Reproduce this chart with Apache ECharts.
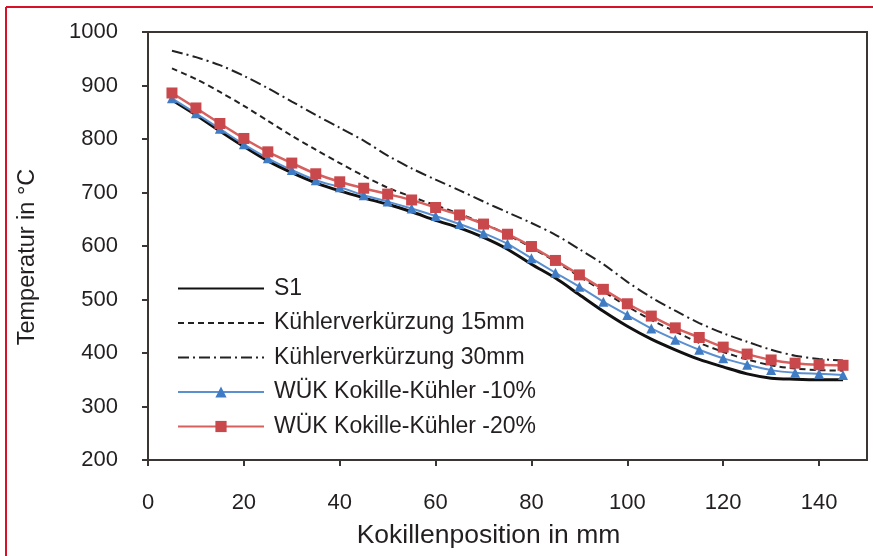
<!DOCTYPE html>
<html>
<head>
<meta charset="utf-8">
<script src="https://cdn.jsdelivr.net/npm/echarts@6/dist/echarts.min.js"></script>
<style>
html,body{margin:0;padding:0;background:#fff;}
#chart{width:873px;height:556px;}
</style>
</head>
<body>
<div id="chart"></div>
<script>
const positions = [5,10,15,20,25,30,35,40,45,50,55,60,65,70,75,80,85,90,95,100,105,110,115,120,125,130,135,140,145];
const s1 =        [873,845,815,786,759,737,718,703,690,678,664,648,634,616,594,566,540,509,478,450,426,406,388,374,361,353,351,350,350];
const kuehler15 = [932,912,888,862,834,806,780,755,731,709,692,676,660,642,621,597,571,543,515,487,462,440,419,402,388,377,371,368,367];
const kuehler30 = [965,953,938,918,895,870,845,821,797,769,745,724,704,683,663,643,621,594,566,533,504,479,456,437,421,406,395,389,386];
const wuek10 =    [876,848,819,790,764,742,723,710,695,683,670,656,641,624,604,577,550,524,496,471,446,425,406,390,378,368,363,361,359];
const wuek20 =    [886,858,829,801,776,755,735,720,708,697,686,672,658,641,622,599,573,546,519,492,469,447,429,411,398,387,381,378,377];
const seriesNames = ['S1','Kühlerverkürzung 15mm','Kühlerverkürzung 30mm','WÜK Kokille-Kühler -10%','WÜK Kokille-Kühler -20%'];
const xTicks = [0,20,40,60,80,100,120,140];
const yTicks = [200,300,400,500,600,700,800,900,1000];

const pair = arr => positions.map((x,i)=>[x, arr[i]]);
const font = 'Liberation Sans, Arial, Helvetica, sans-serif';
const textColor = '#231f20';
const axisColor = '#3b3634';
const noMarker = {color:'rgba(0,0,0,0)', borderWidth:0, opacity:0};

const chart = echarts.init(document.getElementById('chart'));
chart.setOption({
  animation:false,
  backgroundColor:'#fff',
  graphic:[
    {type:'line', shape:{x1:6,y1:7,x2:6,y2:556}, style:{stroke:'#d8102a', lineWidth:2}},
    {type:'line', shape:{x1:6,y1:7,x2:873,y2:7}, style:{stroke:'#d8102a', lineWidth:2}}
  ],
  grid:{left:148,right:6,top:32,bottom:96,show:true,borderColor:axisColor,borderWidth:2,backgroundColor:'transparent'},
  legend:{
    orient:'vertical', left:177, top:277, padding:0,
    itemWidth:86, itemHeight:14, itemGap:11.5,
    textStyle:{fontFamily:font,fontSize:23,lineHeight:23,color:textColor,padding:[0,0,0,5]},
    data:[
      {name:seriesNames[0], itemStyle:noMarker},
      {name:seriesNames[1], itemStyle:noMarker},
      {name:seriesNames[2], itemStyle:noMarker},
      {name:seriesNames[3]},
      {name:seriesNames[4]}
    ]
  },
  xAxis:{
    type:'value', min:0, max:150, interval:20,
    name:'Kokillenposition in mm', nameLocation:'middle', nameGap:62,
    nameTextStyle:{fontFamily:font,fontSize:26.5,color:textColor,padding:[0,38,0,0]},
    axisLine:{show:true,lineStyle:{color:axisColor,width:2}},
    axisTick:{show:true,inside:false,length:6,lineStyle:{color:axisColor,width:2},customValues:xTicks},
    axisLabel:{fontFamily:font,fontSize:22,color:textColor,margin:32,customValues:xTicks,formatter:v=>String(v)},
    splitLine:{show:false}
  },
  yAxis:{
    type:'value', min:200, max:1000, interval:100,
    name:'Temperatur in °C', nameLocation:'middle', nameGap:108,
    nameTextStyle:{fontFamily:font,fontSize:23.5,color:textColor,padding:[0,22,0,0]},
    axisLine:{show:true,lineStyle:{color:axisColor,width:2}},
    axisTick:{show:true,inside:false,length:6,lineStyle:{color:axisColor,width:2},customValues:yTicks},
    axisLabel:{fontFamily:font,fontSize:22,color:textColor,margin:30,customValues:yTicks,formatter:v=>String(v)},
    splitLine:{show:false}
  },
  series:[
    {name:seriesNames[0], type:'line', data:pair(s1), smooth:0.3, symbol:'none',
     lineStyle:{color:'#111',width:3}, itemStyle:{color:'#111'}, z:2},
    {name:seriesNames[1], type:'line', data:pair(kuehler15), smooth:0.3, symbol:'none',
     lineStyle:{color:'#222',width:2,type:[6,4]}, itemStyle:{color:'#222'}, z:3},
    {name:seriesNames[2], type:'line', data:pair(kuehler30), smooth:0.3, symbol:'none',
     lineStyle:{color:'#222',width:2,type:[11,4,2,4]}, itemStyle:{color:'#222'}, z:3},
    {name:seriesNames[3], type:'line', data:pair(wuek10), smooth:0.3, symbol:'triangle', symbolSize:10,
     lineStyle:{color:'#5a8fd0',width:2}, itemStyle:{color:'#3f7cc4'}, z:4},
    {name:seriesNames[4], type:'line', data:pair(wuek20), smooth:0.3, symbol:'rect', symbolSize:11,
     lineStyle:{color:'#d5605e',width:2.5}, itemStyle:{color:'#c9484b'}, z:5}
  ]
});
</script>
</body>
</html>
